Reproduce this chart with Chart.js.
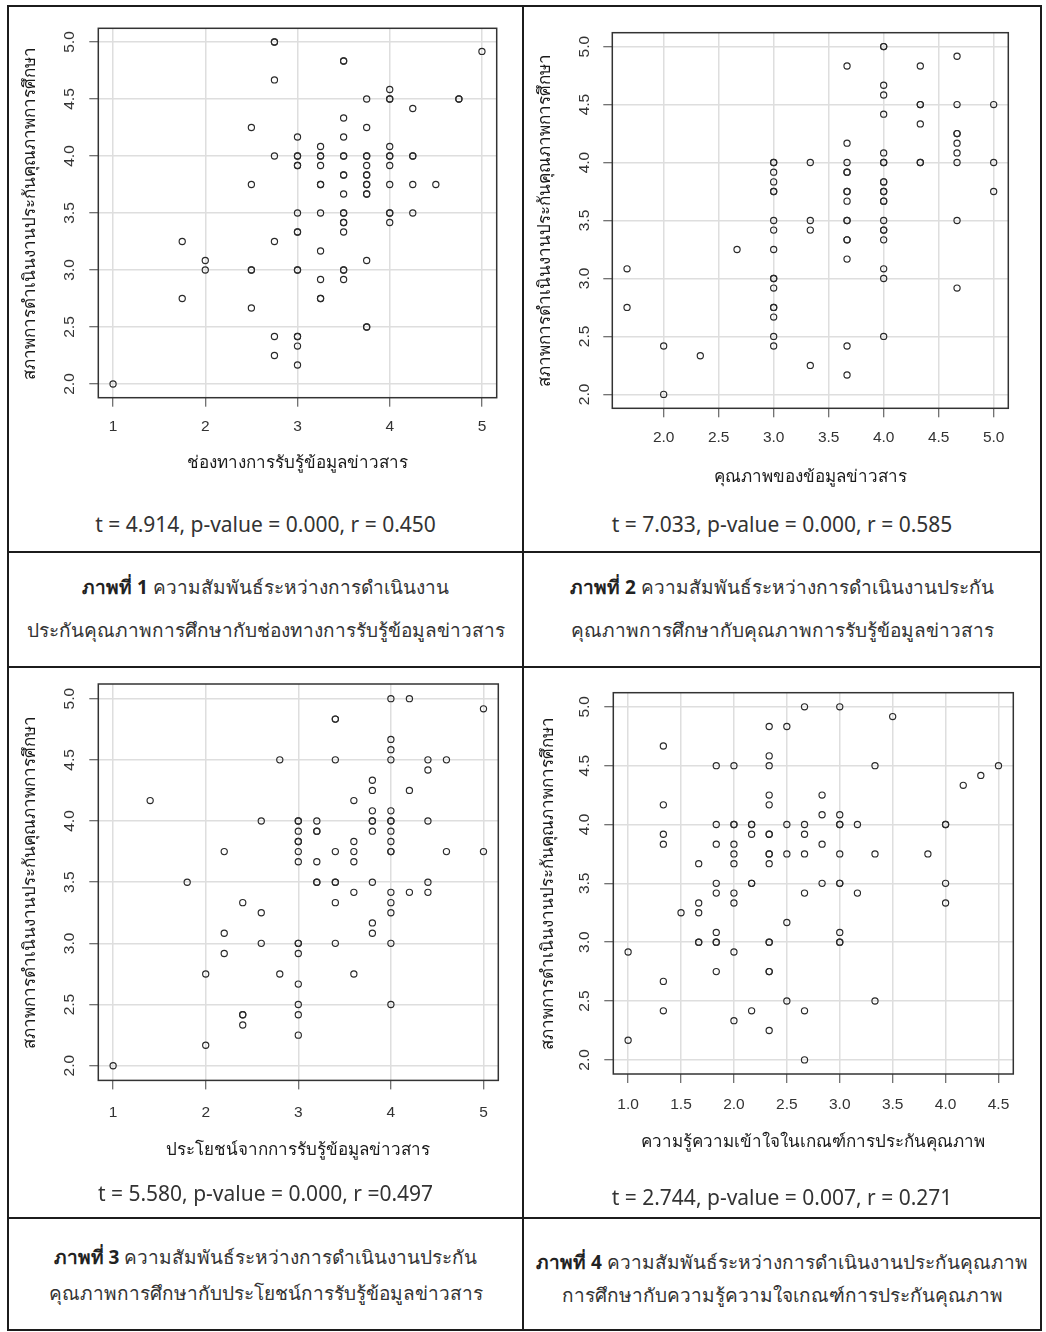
<!DOCTYPE html>
<html lang="th">
<head>
<meta charset="utf-8">
<title>ความสัมพันธ์ระหว่างการดำเนินงานประกันคุณภาพการศึกษา</title>
<script src="https://cdn.jsdelivr.net/npm/chart.js@4.4.1/dist/chart.umd.min.js"></script>
<style>
  html, body { margin: 0; padding: 0; background: #fff; }
  body { width: 1046px; height: 1332px; position: relative; overflow: hidden;
         font-family: "Noto Sans", Tahoma, sans-serif; color: #2a2a2a; }
  .frame { position: absolute; left: 7px; top: 5px; width: 1035px; height: 1326px;
           border: 2px solid #1c1c1c; box-sizing: border-box; }
  .hl { position: absolute; left: 7px; width: 1035px; height: 2px; background: #1c1c1c; }
  .vl { position: absolute; left: 522px; top: 5px; width: 2px; height: 1326px; background: #1c1c1c; }
  canvas { position: absolute; }
  .txt { position: absolute; height: 30px; line-height: 30px; text-align: center; white-space: nowrap; }
  .stat { font-size: 21px; color: #333; }
  .cap { font-size: 19px; color: #333; }
  .cap b { color: #222; }
  .left { left: 9px; width: 513px; }
  .right { left: 524px; width: 516px; }
</style>
</head>
<body>
<div class="frame"></div>
<div class="vl"></div>
<div class="hl" style="top:551px"></div>
<div class="hl" style="top:666px"></div>
<div class="hl" style="top:1217px"></div>

<canvas id="plot1" width="505" height="490" style="left:10px; top:8px"></canvas>
<canvas id="plot2" width="505" height="490" style="left:527px; top:8px"></canvas>
<canvas id="plot3" width="505" height="540" style="left:10px; top:670px"></canvas>
<canvas id="plot4" width="505" height="540" style="left:527px; top:670px"></canvas>

<div class="txt stat left" style="top:509px">t = 4.914, p-value = 0.000, r = 0.450</div>
<div class="txt stat right" style="top:509px">t = 7.033, p-value = 0.000, r = 0.585</div>
<div class="txt stat left" style="top:1178px">t = 5.580, p-value = 0.000, r =0.497</div>
<div class="txt stat right" style="top:1182px">t = 2.744, p-value = 0.007, r = 0.271</div>

<div class="txt cap left" style="top:572px"><b>ภาพที่ 1</b> ความสัมพันธ์ระหว่างการดำเนินงาน</div>
<div class="txt cap left" style="top:615px">ประกันคุณภาพการศึกษากับช่องทางการรับรู้ข้อมูลข่าวสาร</div>
<div class="txt cap right" style="top:572px"><b>ภาพที่ 2</b> ความสัมพันธ์ระหว่างการดำเนินงานประกัน</div>
<div class="txt cap right" style="top:615px">คุณภาพการศึกษากับคุณภาพการรับรู้ข้อมูลข่าวสาร</div>
<div class="txt cap left" style="top:1242px"><b>ภาพที่ 3</b> ความสัมพันธ์ระหว่างการดำเนินงานประกัน</div>
<div class="txt cap left" style="top:1278px">คุณภาพการศึกษากับประโยชน์การรับรู้ข้อมูลข่าวสาร</div>
<div class="txt cap right" style="top:1247px"><b>ภาพที่ 4</b> ความสัมพันธ์ระหว่างการดำเนินงานประกันคุณภาพ</div>
<div class="txt cap right" style="top:1280px">การศึกษากับความรู้ความใจเกณฑ์การประกันคุณภาพ</div>

<script>
// ค่า y ของแต่ละคอลัมน์ x (ค่าซ้ำใส่สองครั้ง)
const yTitle = 'สภาพการดำเนินงานประกันคุณภาพการศึกษา';
const yTicks = [2.0, 2.5, 3.0, 3.5, 4.0, 4.5, 5.0];
const yTickLabels = ['2.0', '2.5', '3.0', '3.5', '4.0', '4.5', '5.0'];

// ภาพที่ 1 ช่องทางการรับรู้
const p1Cols = [1, 1.75, 2, 2.5, 2.75, 3, 3.25, 3.5, 3.75, 4, 4.25, 4.5, 4.75, 5];
const p1Vals = [
  [2.0],
  [3.25, 2.75],
  [3.083, 3.0],
  [4.25, 3.75, 3.0, 3.0, 2.667],
  [5.0, 5.0, 4.667, 4.0, 3.25, 2.417, 2.25],
  [4.167, 4.0, 4.0, 3.917, 3.917, 3.5, 3.333, 3.333, 3.0, 3.0, 2.417, 2.417, 2.333, 2.167],
  [4.083, 4.0, 4.0, 3.917, 3.75, 3.75, 3.5, 3.167, 2.917, 2.75, 2.75],
  [4.833, 4.833, 4.333, 4.167, 4.0, 4.0, 3.833, 3.833, 3.667, 3.5, 3.5, 3.417, 3.417, 3.333, 3.0, 3.0, 2.917],
  [4.5, 4.25, 4.0, 4.0, 3.917, 3.833, 3.833, 3.75, 3.75, 3.667, 3.667, 3.083, 2.5, 2.5],
  [4.583, 4.5, 4.5, 4.083, 4.0, 4.0, 3.917, 3.75, 3.5, 3.5, 3.417],
  [4.417, 4.0, 4.0, 3.75, 3.5],
  [3.75],
  [4.5, 4.5],
  [4.917]
];
const p1XTicks = [1, 2, 3, 4, 5];
const p1XLabels = ['1', '2', '3', '4', '5'];

// ภาพที่ 2 คุณภาพของข้อมูล
const p2Cols = [1.667, 2.0, 2.333, 2.667, 3.0, 3.333, 3.667, 4.0, 4.333, 4.667, 5.0];
const p2Vals = [
  [3.083, 2.75],
  [2.417, 2.0],
  [2.333],
  [3.25],
  [4.0, 4.0, 3.917, 3.833, 3.75, 3.75, 3.5, 3.417, 3.25, 3.0, 3.0, 2.917, 2.75, 2.75, 2.667, 2.5, 2.417],
  [4.0, 3.5, 3.417, 2.25],
  [4.833, 4.167, 4.0, 3.917, 3.917, 3.75, 3.75, 3.667, 3.5, 3.5, 3.333, 3.333, 3.167, 2.417, 2.167],
  [5.0, 5.0, 4.667, 4.583, 4.417, 4.083, 4.0, 4.0, 3.833, 3.833, 3.75, 3.75, 3.667, 3.667, 3.5, 3.417, 3.417, 3.333, 3.083, 3.0, 2.5],
  [4.833, 4.5, 4.5, 4.333, 4.0, 4.0],
  [4.917, 4.5, 4.25, 4.25, 4.167, 4.083, 4.0, 3.5, 2.917],
  [4.5, 4.0, 3.75]
];
const p2XTicks = [2.0, 2.5, 3.0, 3.5, 4.0, 4.5, 5.0];
const p2XLabels = ['2.0', '2.5', '3.0', '3.5', '4.0', '4.5', '5.0'];

// ภาพที่ 3 ประโยชน์จากการรับรู้
const p3Cols = [1, 1.4, 1.8, 2.0, 2.2, 2.4, 2.6, 2.8, 3.0, 3.2, 3.4, 3.6, 3.8, 4.0, 4.2, 4.4, 4.6, 5.0];
const p3Vals = [
  [2.0],
  [4.167],
  [3.5],
  [2.75, 2.167],
  [3.75, 3.083, 2.917],
  [3.333, 2.417, 2.417, 2.333],
  [4.0, 3.25, 3.0],
  [4.5, 2.75],
  [4.0, 4.0, 3.917, 3.833, 3.833, 3.75, 3.667, 3.0, 3.0, 2.917, 2.667, 2.5, 2.417, 2.25],
  [4.0, 3.917, 3.917, 3.667, 3.5, 3.5],
  [4.833, 4.833, 4.5, 3.75, 3.5, 3.5, 3.333, 3.0],
  [4.167, 3.833, 3.75, 3.667, 3.417, 2.75],
  [4.333, 4.25, 4.083, 4.0, 4.0, 3.917, 3.5, 3.167, 3.083],
  [5.0, 4.667, 4.583, 4.5, 4.083, 4.0, 4.0, 3.917, 3.833, 3.75, 3.75, 3.417, 3.333, 3.25, 3.0, 2.5],
  [5.0, 4.25, 3.417],
  [4.5, 4.417, 4.0, 3.5, 3.417],
  [4.5, 3.75],
  [4.917, 3.75]
];
const p3XTicks = [1, 2, 3, 4, 5];
const p3XLabels = ['1', '2', '3', '4', '5'];

// ภาพที่ 4 ความรู้ความเข้าใจในเกณฑ์
const p4Cols = [1.0, 1.333, 1.5, 1.667, 1.833, 2.0, 2.167, 2.333, 2.5, 2.667, 2.833, 3.0, 3.167, 3.333, 3.5, 3.833, 4.0, 4.167, 4.333, 4.5];
const p4Vals = [
  [2.917, 2.167],
  [4.667, 4.167, 3.917, 3.833, 2.667, 2.417],
  [3.25],
  [3.667, 3.333, 3.25, 3.0, 3.0],
  [4.5, 4.0, 3.833, 3.5, 3.417, 3.083, 3.0, 3.0, 2.75],
  [4.5, 4.0, 4.0, 3.833, 3.75, 3.667, 3.417, 3.333, 2.917, 2.333],
  [4.0, 4.0, 3.917, 3.5, 3.5, 2.417],
  [4.833, 4.583, 4.5, 4.25, 4.167, 3.917, 3.917, 3.75, 3.75, 3.667, 3.0, 3.0, 2.75, 2.75, 2.25],
  [4.833, 4.0, 3.75, 3.167, 2.5],
  [5.0, 4.0, 3.917, 3.75, 3.417, 2.417, 2.0],
  [4.25, 4.083, 3.833, 3.5],
  [5.0, 4.083, 4.0, 4.0, 3.75, 3.5, 3.5, 3.083, 3.0, 3.0],
  [4.0, 3.417],
  [4.5, 3.75, 2.5],
  [4.917],
  [3.75],
  [4.0, 4.0, 3.5, 3.333],
  [4.333],
  [4.417],
  [4.5]
];
const p4XTicks = [1.0, 1.5, 2.0, 2.5, 3.0, 3.5, 4.0, 4.5];
const p4XLabels = ['1.0', '1.5', '2.0', '2.5', '3.0', '3.5', '4.0', '4.5'];

const tickFont = { family: '"Liberation Sans", Arial, sans-serif', size: 15.5 };
const titleFont = { family: '"Liberation Sans Narrow", "Noto Sans", sans-serif', size: 17, weight: '500' };

// กรอบรอบพื้นที่กราฟแบบ R
const boxPlugin = {
  id: 'box',
  afterDraw(chart) {
    const a = chart.chartArea, c = chart.ctx;
    c.save();
    c.strokeStyle = '#333';
    c.lineWidth = 1.5;
    c.strokeRect(a.left, a.top, a.right - a.left, a.bottom - a.top);
    c.restore();
  }
};

function makePlot(id, cols, vals, xTicks, xLabels, xRange, xTitle, lay) {
  const pts = [];
  cols.forEach((x, i) => vals[i].forEach(y => pts.push({ x: x, y: y })));

  new Chart(document.getElementById(id), {
    type: 'scatter',
    data: {
      datasets: [{
        data: pts,
        pointRadius: 3.1,
        pointHoverRadius: 3.1,
        borderWidth: 1.15,
        borderColor: '#2a2a2a',
        backgroundColor: 'rgba(0,0,0,0)'
      }]
    },
    options: {
      responsive: false,
      animation: false,
      events: [],
      layout: { padding: { left: 0, top: lay.top, right: lay.right, bottom: 0 } },
      plugins: { legend: { display: false }, tooltip: { enabled: false } },
      scales: {
        x: {
          type: 'linear',
          min: xRange[0],
          max: xRange[1],
          afterBuildTicks: s => { s.ticks = xTicks.map(v => ({ value: v })); },
          afterFit: s => { s.height = lay.xAxisH; s.paddingLeft = 0; s.paddingRight = 0; },
          ticks: {
            autoSkip: false, maxRotation: 0, padding: lay.xTickPad,
            font: tickFont, color: '#333',
            callback: (v, i) => xLabels[i]
          },
          grid: { color: '#dedede', lineWidth: 1.5, tickLength: 9, tickColor: '#444', tickWidth: 1 },
          border: { display: false },
          title: { display: true, text: xTitle, font: titleFont, color: '#1a1a1a',
                   padding: { top: 0, bottom: lay.xTitlePad } }
        },
        y: {
          type: 'linear',
          min: 1.88,
          max: 5.12,
          afterBuildTicks: s => { s.ticks = yTicks.map(v => ({ value: v })); },
          afterFit: s => { s.width = lay.yAxisW; s.paddingTop = 0; s.paddingBottom = 0; },
          ticks: {
            autoSkip: false, minRotation: 90, maxRotation: 90, crossAlign: 'center',
            padding: lay.yTickPad, font: tickFont, color: '#333',
            callback: (v, i) => yTickLabels[i]
          },
          grid: { color: '#dedede', lineWidth: 1.5, tickLength: 9, tickColor: '#444', tickWidth: 1 },
          border: { display: false },
          title: { display: true, text: yTitle, font: titleFont, color: '#1a1a1a',
                   padding: { top: lay.yTitlePad, bottom: 0 } }
        }
      }
    },
    plugins: [boxPlugin]
  });
}

makePlot('plot1', p1Cols, p1Vals, p1XTicks, p1XLabels, [0.84, 5.16], 'ช่องทางการรับรู้ข้อมูลข่าวสาร',
  { top: 20.3, right: 18.3, yAxisW: 88.3, xAxisH: 100.3, xTickPad: 11, xTitlePad: 24.8, yTickPad: 8.9, yTitlePad: 9.8 });
makePlot('plot2', p2Cols, p2Vals, p2XTicks, p2XLabels, [1.533, 5.133], 'คุณภาพของข้อมูลข่าวสาร',
  { top: 24.7, right: 23.7, yAxisW: 85.3, xAxisH: 89.7, xTickPad: 11, xTitlePad: 11.1, yTickPad: 7.9, yTitlePad: 7.8 });
makePlot('plot3', p3Cols, p3Vals, p3XTicks, p3XLabels, [0.84, 5.16], 'ประโยชน์จากการรับรู้ข้อมูลข่าวสาร',
  { top: 14, right: 16.7, yAxisW: 88.3, xAxisH: 129.6, xTickPad: 13.6, xTitlePad: 49.8, yTickPad: 8.9, yTitlePad: 9.8 });
makePlot('plot4', p4Cols, p4Vals, p4XTicks, p4XLabels, [0.86, 4.64], 'ความรู้ความเข้าใจในเกณฑ์การประกันคุณภาพ',
  { top: 22.7, right: 18.7, yAxisW: 86.3, xAxisH: 136, xTickPad: 12, xTitlePad: 57.8, yTickPad: 8.9, yTitlePad: 10.8 });
</script>
</body>
</html>
